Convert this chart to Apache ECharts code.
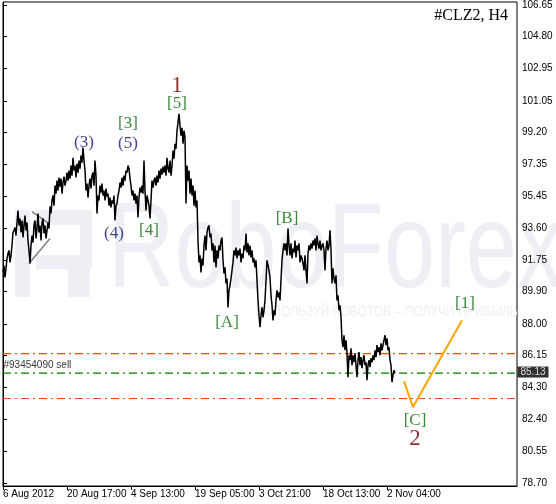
<!DOCTYPE html>
<html>
<head>
<meta charset="utf-8">
<script src="https://cdn.jsdelivr.net/npm/echarts@6/dist/echarts.min.js"></script>
<style>
html,body{margin:0;padding:0;background:#fff;}
#chart{width:556px;height:504px;}
</style>
</head>
<body>
<div id="chart"></div>
<script>
// ---- data ----
const closes = [
91.01,91.42,90.72,91.25,91.83,92.12,92.30,91.60,92.01,92.59,
93.35,93.47,93.64,93.17,93.93,94.63,93.76,94.17,93.35,94.05,
93.06,93.76,94.34,93.47,93.93,92.88,92.30,91.54,92.59,93.17,
92.76,93.76,94.05,93.00,93.58,94.46,93.35,93.76,92.88,93.93,
94.17,93.29,93.76,93.00,93.47,93.93,93.58,94.87,94.46,95.22,
95.51,94.92,96.09,95.62,96.38,95.80,96.56,96.03,96.50,95.62,
96.27,96.62,96.09,96.38,96.85,96.38,96.97,96.50,97.26,96.67,
97.72,96.97,97.26,96.56,97.37,96.85,97.55,97.08,97.84,97.43,
98.31,97.55,96.97,95.80,96.21,95.39,96.09,96.50,95.92,96.67,
96.85,96.09,97.55,96.67,94.46,95.51,95.22,96.09,95.68,96.21,
95.51,95.80,95.22,95.92,95.45,95.62,94.92,95.39,94.81,95.22,
95.04,95.51,94.05,94.92,95.04,95.51,95.80,96.27,95.97,96.56,
96.09,96.67,96.38,96.97,96.85,97.26,97.08,96.50,96.09,95.51,
95.80,95.22,95.62,95.04,95.51,94.22,95.39,95.97,95.68,96.09,
95.62,97.55,95.80,94.63,95.51,95.22,94.92,94.17,95.22,96.38,
95.97,96.38,96.56,96.09,96.67,96.27,96.97,96.50,97.08,96.73,
97.20,96.85,97.26,96.67,97.72,97.08,96.85,97.55,96.67,97.26,
98.13,97.67,98.54,98.25,99.30,99.77,100.29,99.59,99.01,99.47,
98.54,99.30,98.89,95.04,97.26,96.38,96.97,95.62,96.50,95.51,
96.09,94.92,95.80,94.81,95.22,92.88,91.60,92.01,91.01,91.83,
91.42,92.59,93.17,92.30,93.35,93.64,93.76,93.06,93.29,92.30,
92.71,91.60,92.59,91.31,92.30,91.83,92.59,92.30,92.88,93.06,
91.72,90.96,91.31,90.37,90.66,88.97,89.96,90.26,90.66,91.13,
91.60,92.30,92.01,92.47,91.83,92.30,92.01,92.41,91.60,92.12,
91.83,92.59,92.30,93.29,92.18,92.71,92.01,92.59,91.89,92.30,
91.60,91.83,91.31,91.72,90.55,89.38,88.51,87.81,88.51,88.97,
88.39,88.80,89.38,90.55,91.72,91.42,91.13,90.72,89.67,89.09,
88.21,88.80,88.51,89.38,89.96,89.56,89.85,89.38,90.55,91.72,
92.30,92.71,92.30,92.71,92.01,93.58,92.59,92.01,92.71,91.83,
92.41,92.18,92.88,91.89,92.59,92.30,92.71,91.60,92.01,91.83,
91.54,91.13,92.01,91.13,90.37,92.12,92.59,92.30,92.71,92.41,
92.88,92.59,93.00,92.30,93.17,92.71,92.41,92.88,92.30,92.59,
92.71,92.30,91.13,92.41,92.88,92.30,92.59,93.47,92.30,90.37,
91.25,90.66,90.37,90.84,89.38,89.67,88.80,89.09,88.39,87.05,
86.64,87.34,86.46,87.05,86.29,84.89,86.17,85.88,86.58,85.59,
86.17,85.76,86.29,85.59,84.89,85.88,86.35,85.59,86.06,85.41,
85.88,86.17,85.59,85.76,84.71,85.59,85.88,85.47,86.00,85.76,
86.17,85.88,86.46,86.06,86.76,86.35,86.64,86.17,86.87,86.46,
86.76,87.05,87.34,86.76,87.16,86.46,86.64,85.88,85.59,84.60,
85.01,85.30,85.13
];

const xTickIndex = [0, 64, 128, 192, 256, 320, 384];
const xTickLabels = ['6 Aug 2012', '20 Aug 17:00', '4 Sep 13:00', '19 Sep 05:00', '3 Oct 21:00', '18 Oct 13:00', '2 Nov 04:00'];
const yTickValues = [106.65, 104.80, 102.95, 101.05, 99.20, 97.35, 95.45, 93.60, 91.75, 89.90, 88.00, 86.15, 84.30, 82.40, 80.55, 78.70];

const projIndex = [401, 410, 459];
const projPrice = [84.66, 83.14, 88.21];

const triUpperIndex = [29, 46];
const triUpperPrice = [94.57, 93.87];
const triLowerIndex = [26, 47];
const triLowerPrice = [91.54, 93.00];

const waveText  = ['(3)', '[3]', '(5)', '(4)', '[4]', '[5]', '1', '[A]', '[B]', '[C]', '2', '[1]'];
const waveIndex = [81, 125, 125, 111, 146, 174, 174, 224, 284, 412, 412, 462];
const wavePrice = [98.60, 99.71, 98.54, 93.29, 93.47, 100.87, 101.92, 88.10, 94.17, 82.38, 81.27, 89.21];

const stopLevel = 86.26;
const takeLevel = 83.64;
const orderLevel = 85.13;
const orderText = '#93454090 sell';
const symbolTitle = '#CLZ2, H4';

// ---- chart ----
const chart = echarts.init(document.getElementById('chart'), null, {renderer: 'canvas'});

function waveColor(t) {
  if (t.charAt(0) === '[') return '#0b6a0b';
  if (t.charAt(0) === '(') return '#10107a';
  return '#700000';
}

const waveData = waveText.map((t, i) => ({
  value: [waveIndex[i], wavePrice[i]],
  name: t,
  label: {
    color: waveColor(t),
    fontSize: /^\d$/.test(t) ? 23 : 17
  }
}));

const dashDot = [8, 4, 2, 4];

function levelLine(value, color) {
  return {
    type: 'line', silent: true, z: 3, symbol: 'none',
    data: [[0, value], [514, value]],
    lineStyle: {color: color, type: dashDot, width: 1.2}
  };
}

const option = {
  animation: false,
  backgroundColor: '#ffffff',
  title: {
    text: symbolTitle,
    right: 48,
    top: 8,
    padding: 0,
    textStyle: {fontFamily: 'Liberation Serif', fontSize: 16, fontWeight: 'normal', color: '#000'}
  },
  graphic: [
    {
      type: 'group', z: -10, silent: true,
      children: [
        {type: 'rect', shape: {x: 15, y: 210, width: 15, height: 87}, style: {fill: '#edeff4'}},
        {type: 'rect', shape: {x: 36, y: 210, width: 54, height: 15}, style: {fill: '#edeff4'}},
        {type: 'rect', shape: {x: 80, y: 210, width: 12, height: 58}, style: {fill: '#edeff4'}},
        {type: 'rect', shape: {x: 36, y: 255, width: 56, height: 14}, style: {fill: '#edeff4'}},
        {type: 'rect', shape: {x: 68, y: 269, width: 22, height: 28}, style: {fill: '#edeff4'}},
        {type: 'text', x: 108, y: 254, scaleX: 0.76,
          style: {text: 'RoboForex', fontFamily: 'Liberation Sans', fontSize: 121, fill: '#edeff4', verticalAlign: 'middle', align: 'left'}},
        {type: 'text', x: 255, y: 312, scaleX: 0.86,
          style: {text: 'ИСПОЛЬЗУЙ РОБОТОВ – ПОЛУЧИ ПРИБЫЛЬ', fontFamily: 'Liberation Sans', fontSize: 14, fill: '#eef0f5', verticalAlign: 'middle', align: 'left'}}
      ]
    }
  ],
  grid: {
    left: 3, right: 39, top: 1, bottom: 18,
    show: true, borderColor: '#000', borderWidth: 1, backgroundColor: 'transparent'
  },
  xAxis: {
    type: 'value', min: 0, max: 514,
    axisLine: {show: true, lineStyle: {color: '#000', width: 1}},
    splitLine: {show: false},
    axisTick: {show: true, customValues: xTickIndex, length: 4, lineStyle: {color: '#000'}},
    axisLabel: {
      customValues: xTickIndex,
      formatter: v => xTickLabels[xTickIndex.indexOf(v)],
      align: 'left', margin: 3, color: '#000',
      fontFamily: 'Liberation Sans', fontSize: 10
    }
  },
  yAxis: {
    type: 'value', position: 'right',
    min: 78.525, max: 106.825,
    axisLine: {show: true, lineStyle: {color: '#000', width: 1}},
    splitLine: {show: false},
    axisTick: {show: true, customValues: yTickValues, length: 4, lineStyle: {color: '#000'}},
    axisLabel: {
      customValues: yTickValues,
      formatter: v => Number(v).toFixed(2),
      align: 'left', margin: 5, color: '#000',
      fontFamily: 'Liberation Sans', fontSize: 10
    }
  },
  series: [
    levelLine(stopLevel, '#ff4500'),
    levelLine(takeLevel, '#ff4500'),
    levelLine(orderLevel, '#008000'),
    {
      type: 'scatter', name: 'orderTags', silent: true, z: 7,
      symbolSize: 1, clip: false,
      itemStyle: {color: 'rgba(0,0,0,0)'},
      data: [
        {value: [0, orderLevel], label: {show: true, position: [1, -12], formatter: orderText,
          color: '#000', fontFamily: 'Liberation Sans', fontSize: 10}},
        {value: [514, orderLevel], label: {show: true, position: [1, -6],
          formatter: orderLevel.toFixed(2), color: '#fff', backgroundColor: '#000',
          padding: [1, 3, 0, 3], fontFamily: 'Liberation Sans', fontSize: 10}}
      ]
    },
    {
      type: 'line', name: 'price',
      data: closes.map((v, i) => [i, v]),
      symbol: 'none', z: 5,
      lineStyle: {color: '#000', width: 1.5}
    },
    {
      type: 'line', name: 'triUpper',
      data: triUpperIndex.map((x, i) => [x, triUpperPrice[i]]),
      symbol: 'none', z: 4,
      lineStyle: {color: '#808080', width: 1.5}
    },
    {
      type: 'line', name: 'triLower',
      data: triLowerIndex.map((x, i) => [x, triLowerPrice[i]]),
      symbol: 'none', z: 4,
      lineStyle: {color: '#808080', width: 1.5}
    },
    {
      type: 'line', name: 'projection',
      data: projIndex.map((x, i) => [x, projPrice[i]]),
      symbol: 'none', z: 4,
      lineStyle: {color: '#ffa500', width: 2}
    },
    {
      type: 'scatter', name: 'waves',
      data: waveData,
      symbolSize: 1, z: 6,
      itemStyle: {color: 'rgba(0,0,0,0)'},
      label: {
        show: true, position: 'inside',
        formatter: p => p.name,
        fontFamily: 'Liberation Serif'
      }
    }
  ]
};

chart.setOption(option);
</script>
</body>
</html>
